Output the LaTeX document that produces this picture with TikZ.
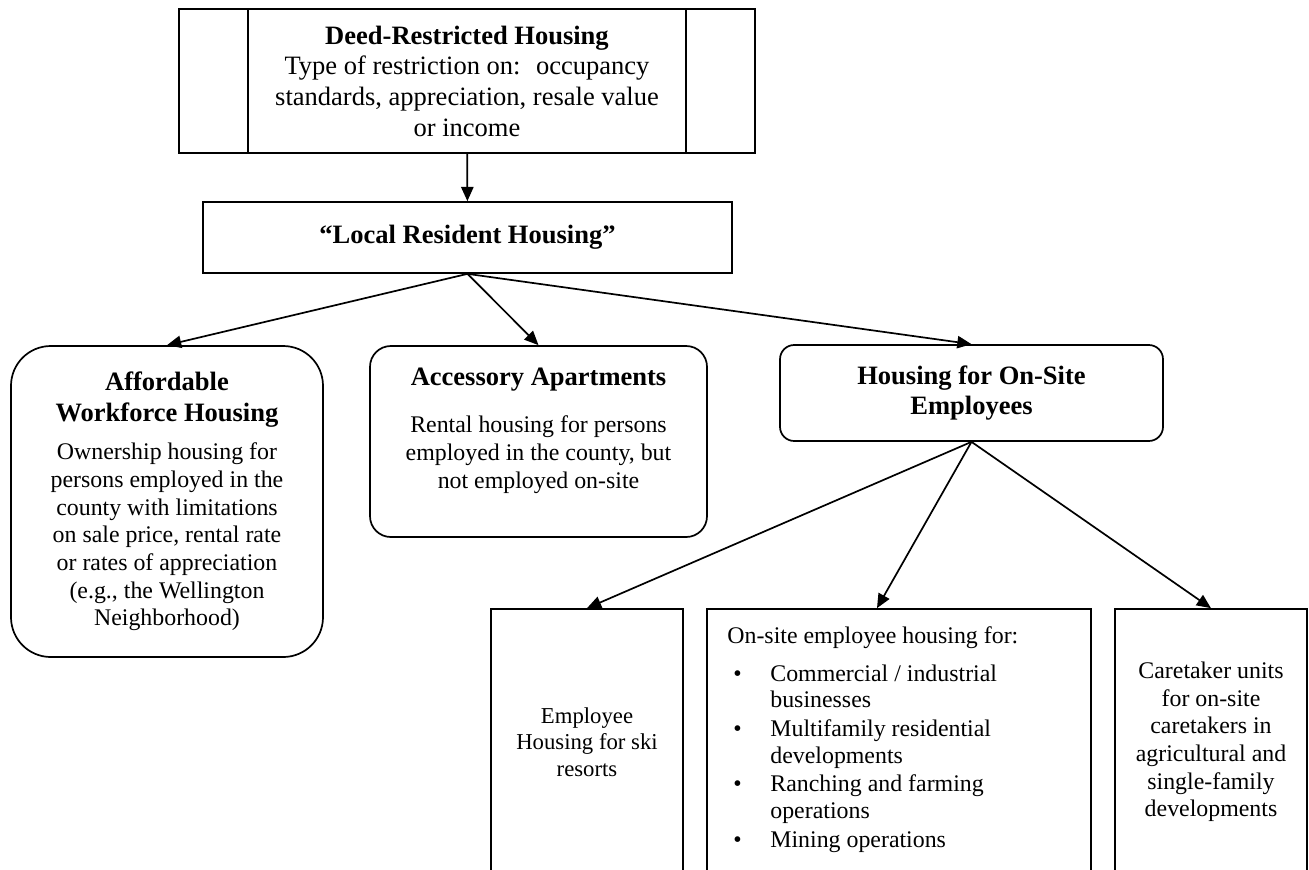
\documentclass[tikz,border=0pt]{standalone}
\usepackage{fontspec}
\setmainfont{Liberation Serif}
\usetikzlibrary{arrows.meta, positioning}

\newcommand{\px}{0.528pt}
\newcommand{\bodyfont}{\fontsize{12.6}{14.6}\selectfont}
\newcommand{\titlefont}{\fontsize{14}{15.8}\selectfont\bfseries}
\newcommand{\bul}{\hspace*{3.2pt}\makebox[19.5pt][l]{\textbullet}}
\newcommand{\bulgap}{\hspace*{22.7pt}}

\begin{document}
\begin{tikzpicture}[
    x=\px, y=-\px,
    plainbox/.style={draw, line width=0.9pt, inner sep=0pt, align=center},
    roundbox/.style={plainbox, rounded corners=#1},
    roundbox/.default=8pt,
    link/.style={line width=0.9pt, -{Triangle[length=7.5pt, width=6.5pt]}}
]
    \path[use as bounding box] (0,0) rectangle (1309,869);
    \clip (0,0) rectangle (1309,869);

    % Top levels
    \node[plainbox, minimum width=576*\px, minimum height=144*\px, font=\fontsize{14}{16.2}\selectfont] (deed) at (467,81)
        {\textbf{Deed-Restricted Housing}\\Type of restriction on: \ occupancy\\standards, appreciation, resale value\\or income};
    \draw[line width=0.9pt] ([xshift=70*\px]deed.north west) -- ([xshift=70*\px]deed.south west);
    \draw[line width=0.9pt] ([xshift=-70*\px]deed.north east) -- ([xshift=-70*\px]deed.south east);

    \node[plainbox, minimum width=529*\px, minimum height=71*\px, font=\titlefont] (local) at (467.5,237.5)
        {“Local Resident Housing”};

    % Second level
    \node[roundbox=21pt, minimum width=312*\px, minimum height=311*\px, font=\bodyfont] (afford) at (167,501.5)
        {{\titlefont Affordable}\\[1.8pt]{\titlefont Workforce Housing}\\[5.4pt]Ownership housing for\\persons employed in the\\county with limitations\\on sale price, rental rate\\or rates of appreciation\\(e.g., the Wellington\\Neighborhood)};

    \node[roundbox=11pt, minimum width=337*\px, minimum height=191*\px] (access) at (538.5,441.5) {};
    \node[anchor=north, align=center, inner sep=0pt, font=\bodyfont] (accesstext) at (538.5,368)
        {{\titlefont Accessory Apartments}\\[10.2pt]Rental housing for persons\\employed in the county, but\\not employed on-site};

    \node[roundbox=7.5pt, minimum width=383*\px, minimum height=96*\px, font=\titlefont] (onsite) at (971.5,393)
        {Housing for On-Site\\Employees};

    % Third level
    \node[plainbox, minimum width=192*\px, minimum height=266*\px, font=\fontsize{12}{14}\selectfont] (ski) at (587,742)
        {Employee\\Housing for ski\\resorts};

    \node[plainbox, minimum width=384*\px, minimum height=266*\px] (onsitelist) at (899,742) {};
    \node[anchor=north west, align=left, inner sep=0pt, font=\fontsize{12.6}{14.1}\selectfont] (listtext) at (727,626)
        {On-site employee housing for:\\[6pt]
         \bul Commercial / industrial\\\bulgap businesses\\[1pt]
         \bul Multifamily residential\\\bulgap developments\\[1pt]
         \bul Ranching and farming\\\bulgap operations\\[1pt]
         \bul Mining operations};

    \node[plainbox, minimum width=192*\px, minimum height=266*\px, font=\bodyfont] (caretaker) at (1211,742)
        {Caretaker units\\for on-site\\caretakers in\\agricultural and\\single-family\\developments};

    % Connectors
    \draw[link] (deed) -- (local);
    \draw[link] (local.south) -- (afford.north);
    \draw[link] (local.south) -- (access.north);
    \draw[link] (local.south) -- (onsite.north);
    \draw[link] (onsite.south) -- (ski.north);
    \draw[link] (onsite.south) -- ([xshift=-22*\px]onsitelist.north);
    \draw[link] (onsite.south) -- (caretaker.north);
\end{tikzpicture}
\end{document}
